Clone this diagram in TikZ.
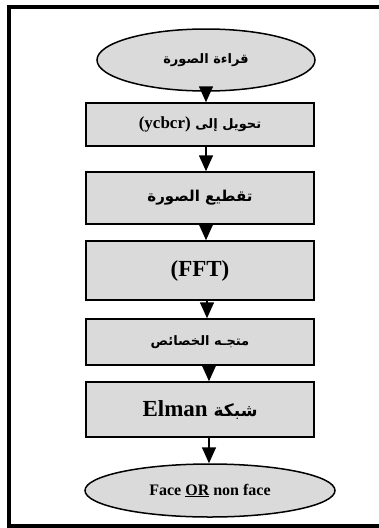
\documentclass[tikz,border=0pt]{standalone}
\usepackage{fontspec}
\setmainfont{Liberation Serif}
\newfontfamily\arabicfont[Script=Arabic]{DejaVu Sans}
\TeXXeTstate=1
\usetikzlibrary{shapes,arrows.meta,positioning,shapes.geometric}
\definecolor{boxgray}{HTML}{DADADA}

\begin{document}
\begin{tikzpicture}[x=1pt, y=-1pt,
    stepbox/.style={draw, rectangle, fill=boxgray, line width=1.5pt, minimum width=228pt, inner sep=0pt, font=\bfseries},
    endbox/.style={draw, ellipse, fill=boxgray, line width=1.5pt, inner sep=0pt, font=\bfseries},
    arr/.style={line width=1.5pt, -{Triangle[width=14pt,length=16pt]}}]
    \useasboundingbox (0,0) rectangle (379,528);
    \draw[line width=4pt] (9,6.5) rectangle (383,525.5);

    \node (read) [endbox, minimum width=218pt, minimum height=62pt] at (206,60) {\arabicfont\fontsize{13}{15}\selectfont\beginR قراءة الصورة\endR};
    \node (ycbcr) [stepbox, minimum height=43pt] at (200,124.5) {\arabicfont\fontsize{13}{15}\selectfont\beginR تحويل إلى \beginL\rmfamily\fontsize{17}{19}\selectfont(ycbcr)\endL\endR};
    \node (cut) [stepbox, minimum height=52pt] at (200,198) {\arabicfont\fontsize{15}{17}\selectfont\beginR تقطيع الصورة\endR};
    \node (fft) [stepbox, minimum height=59pt] at (200,270.5) {\fontsize{23}{25}\selectfont(FFT)};
    \node (feat) [stepbox, minimum height=46pt] at (200,342) {\arabicfont\fontsize{13}{15}\selectfont\beginR متجـه الخصائص\endR};
    \node (elman) [stepbox, minimum height=55pt] at (200,409.5) {\arabicfont\fontsize{17}{19}\selectfont\beginR شبكة \beginL\rmfamily\fontsize{23}{25}\selectfont Elman\endL\endR};
    \node (face) [endbox, minimum width=250pt, minimum height=53pt] at (210,490.5) {\fontsize{16}{18}\selectfont Face \underline{OR} non face};

    \draw[arr] (read.south -| 206,0) -- (ycbcr.north -| 206,0);
    \draw[arr] (ycbcr.south -| 206,0) -- (cut.north -| 206,0);
    \draw[arr] (cut.south -| 206,0) -- (fft.north -| 206,0);
    \draw[arr] (fft.south -| 207,0) -- (feat.north -| 207,0);
    \draw[arr] (feat.south -| 209,0) -- (elman.north -| 209,0);
    \draw[arr] (elman.south -| 209,0) -- (face.north -| 209,0);

\end{tikzpicture}
\end{document}
